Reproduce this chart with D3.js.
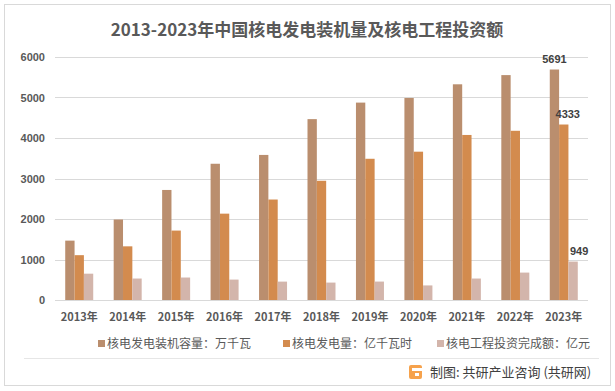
<!DOCTYPE html>
<html>
<head>
<meta charset="utf-8">
<title>核电装机量及投资额</title>
<script src="https://d3js.org/d3.v7.min.js"></script>
<style>
  body { margin: 0; background: #fff; }
  text { font-family: "Noto Sans CJK SC", "Noto Sans", sans-serif; }
</style>
</head>
<body>
<svg id="chart" width="615" height="391"></svg>
<script>
// data
var years = ["2013年","2014年","2015年","2016年","2017年","2018年","2019年","2020年","2021年","2022年","2023年"];
var capacity = [1466, 1988, 2717, 3364, 3582, 4466, 4874, 4989, 5326, 5553, 5691];   // 万千瓦
var generation = [1107, 1325, 1714, 2132, 2481, 2944, 3487, 3662, 4075, 4178, 4333]; // 亿千瓦时
var investment = [650, 530, 555, 504, 454, 430, 455, 360, 530, 677, 949];            // 亿元
var seriesNames = ["核电发电装机容量：万千瓦", "核电发电量：亿千瓦时", "核电工程投资完成额：亿元"];
var yTicks = [0, 1000, 2000, 3000, 4000, 5000, 6000];

var colors = ["#BA8E6E", "#D38B4E", "#D3B5AB"];
var series = [capacity, generation, investment];

var svg = d3.select("#chart");

// outer frame
svg.append("rect").attr("x", 4.5).attr("y", 4.5).attr("width", 606).attr("height", 381)
  .attr("fill", "none").attr("stroke", "#d9d9d9");

svg.append("text").attr("x", 307).attr("y", 36).attr("text-anchor", "middle")
  .attr("font-size", 17).attr("font-weight", "bold").attr("fill", "#595959")
  .text("2013-2023年中国核电发电装机量及核电工程投资额");

var x = d3.scaleBand().domain(years).range([55, 588]);
var y = d3.scaleLinear().domain([0, 6000]).range([300, 57]);
var inner = d3.scaleBand().domain([0, 1, 2]).range([0, 28]);

// grid
svg.append("g").selectAll("line").data(yTicks).join("line")
  .attr("x1", 55).attr("x2", 588)
  .attr("y1", d => Math.round(y(d)) + 0.5).attr("y2", d => Math.round(y(d)) + 0.5)
  .attr("stroke", "#d9d9d9").attr("stroke-width", 1);

var yAxis = svg.append("g").attr("transform", "translate(55,0)")
  .call(d3.axisLeft(y).tickValues(yTicks).tickFormat(d3.format("d")).tickSize(0).tickPadding(10));
yAxis.select(".domain").remove();
yAxis.selectAll("text").attr("font-size", 11).attr("font-weight", "bold").attr("fill", "#595959")
  .style("font-family", "'Liberation Sans', sans-serif");

var xAxis = svg.append("g").attr("transform", "translate(0,300)")
  .call(d3.axisBottom(x).tickSize(0).tickPadding(13));
xAxis.select(".domain").remove();
xAxis.selectAll("text").attr("font-size", 11).attr("font-weight", "bold").attr("fill", "#595959");

// bars
series.forEach(function (vals, i) {
  svg.append("g").selectAll("rect").data(vals).join("rect")
    .attr("x", (d, j) => x(years[j]) + (x.bandwidth() - 28) / 2 + inner(i))
    .attr("width", inner.bandwidth())
    .attr("y", d => y(d))
    .attr("height", d => y(0) - y(d))
    .attr("fill", colors[i]);
});

// value labels on the last year
var last = years.length - 1;
var labelDx = [0, 4, 6];
series.forEach(function (vals, i) {
  var cx = x(years[last]) + (x.bandwidth() - 28) / 2 + inner(i) + inner.bandwidth() / 2 + labelDx[i];
  svg.append("text").attr("x", cx).attr("y", y(vals[last]) - 7)
    .attr("text-anchor", "middle").attr("font-size", 11).attr("font-weight", "bold")
    .attr("fill", "#404040").style("font-family", "'Liberation Sans', sans-serif")
    .text(vals[last]);
});

// legend
var legendX = [98, 283, 437];
var legend = svg.append("g");
seriesNames.forEach(function (name, i) {
  legend.append("rect").attr("x", legendX[i]).attr("y", 340).attr("width", 7).attr("height", 7)
    .attr("fill", colors[i]);
  legend.append("text").attr("x", legendX[i] + 9).attr("y", 348)
    .attr("font-size", 12).attr("fill", "#595959").text(name);
});

// separator + source
svg.append("line").attr("x1", 24).attr("x2", 599).attr("y1", 358.5).attr("y2", 358.5)
  .attr("stroke", "#e6e6e6");

var logo = svg.append("g").attr("transform", "translate(409,365)");
logo.append("rect").attr("width", 13).attr("height", 14).attr("rx", 2).attr("fill", "#F6A24C");
logo.append("rect").attr("x", 3).attr("y", 3).attr("width", 10).attr("height", 3).attr("fill", "#fff");
logo.append("rect").attr("x", 6).attr("y", 8).attr("width", 4).attr("height", 3).attr("fill", "#fff");

svg.append("text").attr("x", 430).attr("y", 377).attr("font-size", 13).attr("fill", "#404040")
  .text("制图: 共研产业咨询 (共研网)");
</script>
</body>
</html>
